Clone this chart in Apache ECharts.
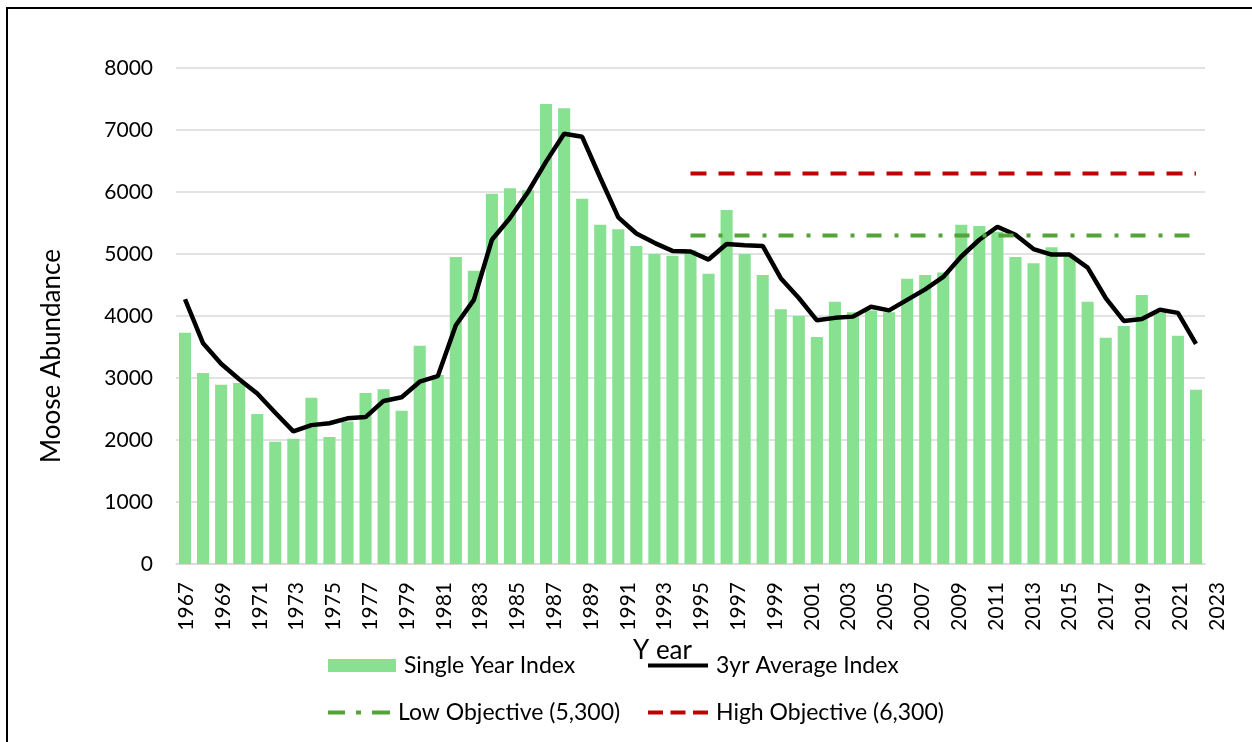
<!DOCTYPE html>
<html><head><meta charset="utf-8">
<script src="https://cdn.jsdelivr.net/npm/echarts@6/dist/echarts.min.js"></script>
<style>html,body{margin:0;padding:0;background:#fff}#c{width:1252px;height:742px}</style>
</head><body><div id="c"></div>
<script>
const years = ['1967','1968','1969','1970','1971','1972','1973','1974','1975','1976','1977','1978','1979','1980','1981','1982','1983','1984','1985','1986','1987','1988','1989','1990','1991','1992','1993','1994','1995','1996','1997','1998','1999','2000','2001','2002','2003','2004','2005','2006','2007','2008','2009','2010','2011','2012','2013','2014','2015','2016','2017','2018','2019','2020','2021','2022','2023'];
const singleYearIndex = [3730,3080,2890,2920,2420,1970,2020,2680,2050,2300,2760,2820,2470,3520,3050,4950,4730,5970,6060,6030,7420,7350,5890,5470,5400,5130,5000,4970,5060,4680,5710,5000,4660,4110,4000,3660,4230,4060,4090,4060,4600,4660,4700,5470,5450,5360,4950,4850,5110,4960,4230,3650,3840,4340,4050,3680,2810];
const threeYrAverage = [4270,3560,3230,2980,2750,2440,2140,2240,2270,2350,2370,2630,2690,2940,3030,3850,4260,5230,5580,6000,6490,6940,6890,6230,5590,5330,5180,5050,5040,4910,5160,5140,5130,4610,4290,3930,3970,3990,4150,4090,4260,4430,4630,4960,5230,5440,5310,5080,4990,4990,4780,4290,3920,3950,4100,4050,3550];
const objectiveYears = ['1995','2023'];
const lowObjective = 5300;
const highObjective = 6300;
const yTicks = {min: 0, max: 8000, interval: 1000};
const seriesNames = ['Single Year Index','3yr Average Index','Low Objective (5,300)','High Objective (6,300)'];

const FONT = 'Lato, "Open Sans", sans-serif';
const chart = echarts.init(document.getElementById('c'), null, {renderer: 'canvas'});

function legendAt(name, left, top, icon, w, h) {
  return {
    data: [name], left: left, top: top, padding: 0, orient: 'horizontal',
    icon: icon, itemWidth: w, itemHeight: h, selectedMode: false,
    itemStyle: {borderWidth: 0},
    textStyle: {fontFamily: FONT, fontSize: 23, color: '#000', padding: [0,0,0,3]}
  };
}

chart.setOption({
  animation: false,
  backgroundColor: '#fff',
  grid: [
    {left: 176, right: 47, top: 68, bottom: 178},
    {left: 177, width: 1049, top: 68, bottom: 178}
  ],
  xAxis: [
    {type: 'category', data: years, gridIndex: 0, boundaryGap: true,
     axisLine: {lineStyle: {color: '#d9d9d9', width: 1.5}},
     axisTick: {show: false}, axisLabel: {show: false}, splitLine: {show: false}},
    {type: 'category', data: years, gridIndex: 1, boundaryGap: true,
     axisLine: {show: false}, axisTick: {show: false}, splitLine: {show: false},
     axisLabel: {rotate: 90, interval: 1, margin: 18, fontFamily: FONT, fontSize: 21, color: '#000'}}
  ],
  yAxis: [
    {type: 'value', gridIndex: 0, min: yTicks.min, max: yTicks.max, interval: yTicks.interval,
     axisLine: {show: false}, axisTick: {show: false},
     axisLabel: {margin: 23, fontFamily: FONT, fontSize: 21, color: '#000', formatter: function (v) { return String(v); }},
     splitLine: {lineStyle: {color: '#d9d9d9', width: 1.5}}},
    {type: 'value', gridIndex: 1, min: yTicks.min, max: yTicks.max, show: false, splitLine: {show: false}}
  ],
  legend: [
    legendAt(seriesNames[0], 328, 654, 'rect', 68, 13),
    legendAt(seriesNames[1], 648, 654, 'path://M0,0H60V4H0Z', 60, 4),
    legendAt(seriesNames[2], 328, 701, 'path://M0,0H17V4H0Z M28,0H33V4H28Z M44,0H62V4H44Z', 62, 4),
    legendAt(seriesNames[3], 648, 701, 'path://M0,0H15V4H0Z M22.5,0H37.5V4H22.5Z M45,0H60V4H45Z', 60, 4)
  ],
  graphic: [
    {type: 'rect', shape: {x: 7, y: 8, width: 1270, height: 800}, style: {fill: 'none', stroke: '#000', lineWidth: 2}, silent: true, z: 0},
    {type: 'text', x: 52, y: 356, rotation: Math.PI / 2,
     style: {text: 'Moose Abundance', font: '26px ' + FONT, fill: '#000', textAlign: 'center', textVerticalAlign: 'middle'}},
    {type: 'text', left: 633, top: 638, style: {text: 'Y ear', font: '26px ' + FONT, fill: '#000'}}
  ],
  series: [
    {name: seriesNames[0], type: 'bar', xAxisIndex: 0, yAxisIndex: 0, data: singleYearIndex,
     barCategoryGap: '33%', itemStyle: {color: '#87e191'}, color: '#87e191'},
    {name: seriesNames[1], type: 'line', xAxisIndex: 0, yAxisIndex: 0, data: threeYrAverage,
     color: '#000', showSymbol: false, symbol: 'none', lineStyle: {color: '#000', width: 4.5}, z: 3},
    {name: seriesNames[2], type: 'line', xAxisIndex: 0, yAxisIndex: 0,
     data: [[objectiveYears[0], lowObjective], [objectiveYears[1], lowObjective]],
     color: '#52a338', showSymbol: false, symbol: 'none',
     lineStyle: {color: '#52a338', width: 4, type: [15, 13, 4, 12]}, z: 4},
    {name: seriesNames[3], type: 'line', xAxisIndex: 0, yAxisIndex: 0,
     data: [[objectiveYears[0], highObjective], [objectiveYears[1], highObjective]],
     color: '#c00000', showSymbol: false, symbol: 'none',
     lineStyle: {color: '#c00000', width: 4, type: [16, 12]}, z: 4}
  ]
});
</script></body></html>
